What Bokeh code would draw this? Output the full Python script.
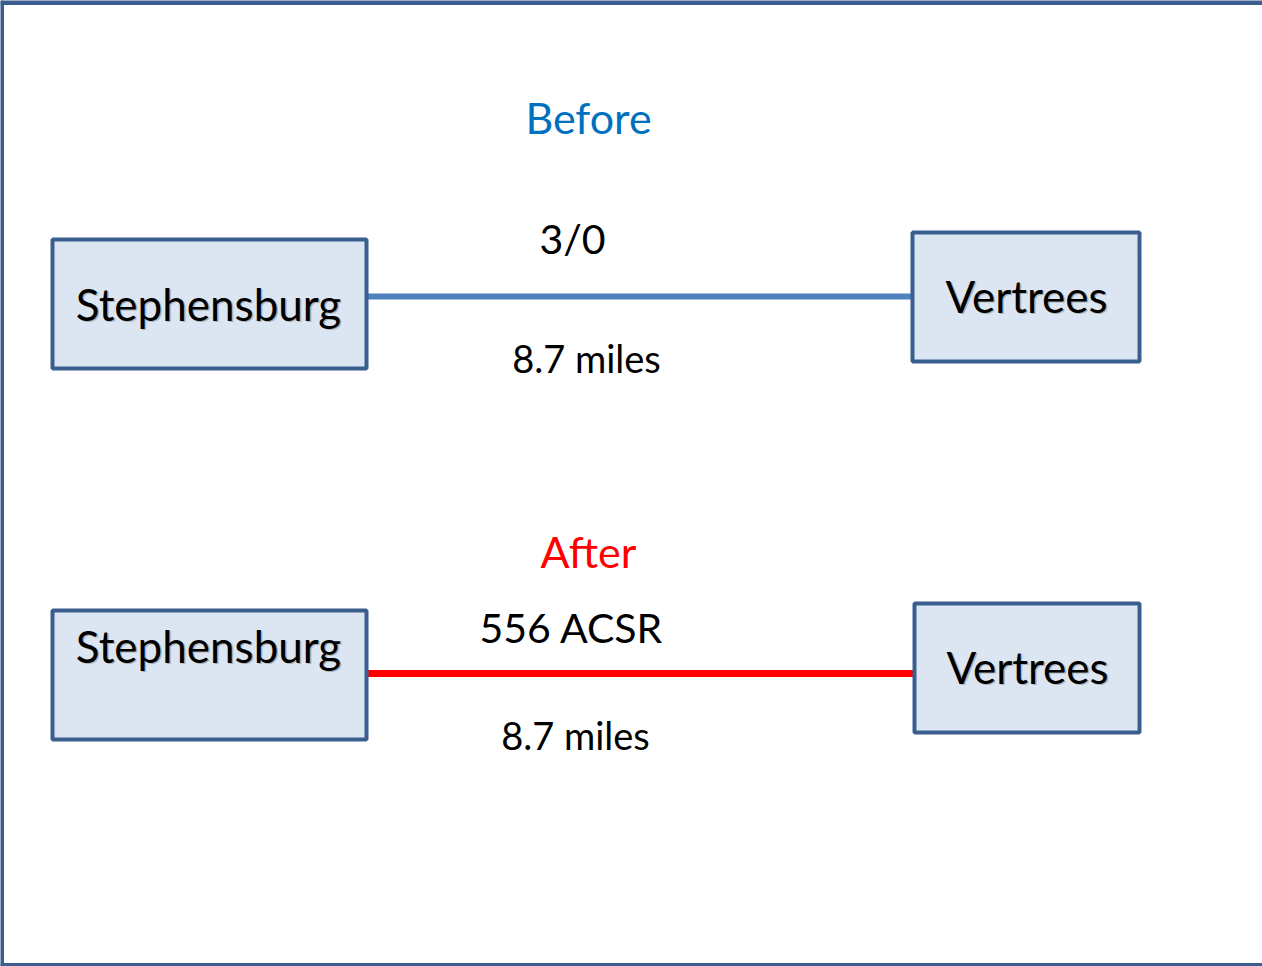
from bokeh.plotting import figure
from bokeh.models import Range1d
from bokeh.core.properties import value
from bokeh.embed import file_html
from bokeh.resources import INLINE

# --- diagram content ---
section_titles = ["Before", "After"]
section_colors = ["#0070C0", "#FF0000"]
section_x = [588, 588]
section_y = [117, 551]

box_names = ["Stephensburg", "Vertrees", "Stephensburg", "Vertrees"]
box_left = [52, 912, 52, 914]
box_right = [366, 1139, 366, 1139]
box_top = [239, 232, 610, 603]
box_bottom = [368, 361, 739, 732]
name_x = [208, 1026, 208, 1027]
name_y = [303, 295, 645, 666]

line_x0 = [366, 366]
line_x1 = [912, 914]
line_y = [296, 673]
line_colors = ["#4F81BD", "#FF0000"]
line_widths = [6, 7]

conductor_labels = ["3/0", "556 ACSR"]
conductor_x = [572, 571]
conductor_y = [238, 627]

distance_labels = ["8.7 miles", "8.7 miles"]
distance_x = [586, 575]
distance_y = [357, 734]

FONT = "Lato"

p = figure(width=1262, height=966, output_backend="svg", toolbar_location=None,
           x_range=Range1d(0, 1262), y_range=Range1d(966, 0),
           min_border=0, outline_line_color=None, background_fill_color="white",
           border_fill_color="white")
p.axis.visible = False
p.grid.visible = False

# page frame
p.segment(x0=[0, 1.5, 0], y0=[2, 0, 964.5], x1=[1262, 1.5, 1262], y1=[2, 966, 964.5],
          line_color="#3A5F8F", line_width=[5, 4, 4])

# connecting lines
p.segment(x0=line_x0, y0=line_y, x1=line_x1, y1=line_y,
          line_color=line_colors, line_width=line_widths)

# boxes
p.quad(left=box_left, right=box_right, top=box_top, bottom=box_bottom,
       fill_color="#DCE6F2", line_color="#3A5F8F", line_width=4)

# box names with a light shadow
p.text(x=[x + 1.5 for x in name_x], y=[y + 1.5 for y in name_y], text=box_names,
       text_font=value(FONT), text_font_size="44px", text_color="#9a9a9a", text_alpha=0.7,
       text_align="center", text_baseline="middle")
p.text(x=name_x, y=name_y, text=box_names,
       text_font=value(FONT), text_font_size="44px", text_color="black",
       text_align="center", text_baseline="middle")

p.text(x=section_x, y=section_y, text=section_titles, text_color=section_colors,
       text_font=value(FONT), text_font_size="43px",
       text_align="center", text_baseline="middle")

p.text(x=conductor_x, y=conductor_y, text=conductor_labels, text_color="black",
       text_font=value(FONT), text_font_size="41px",
       text_align="center", text_baseline="middle")

p.text(x=distance_x, y=distance_y, text=distance_labels, text_color="black",
       text_font=value(FONT), text_font_size="38px",
       text_align="center", text_baseline="middle")

open("out.html", "w").write(file_html(p, INLINE))
